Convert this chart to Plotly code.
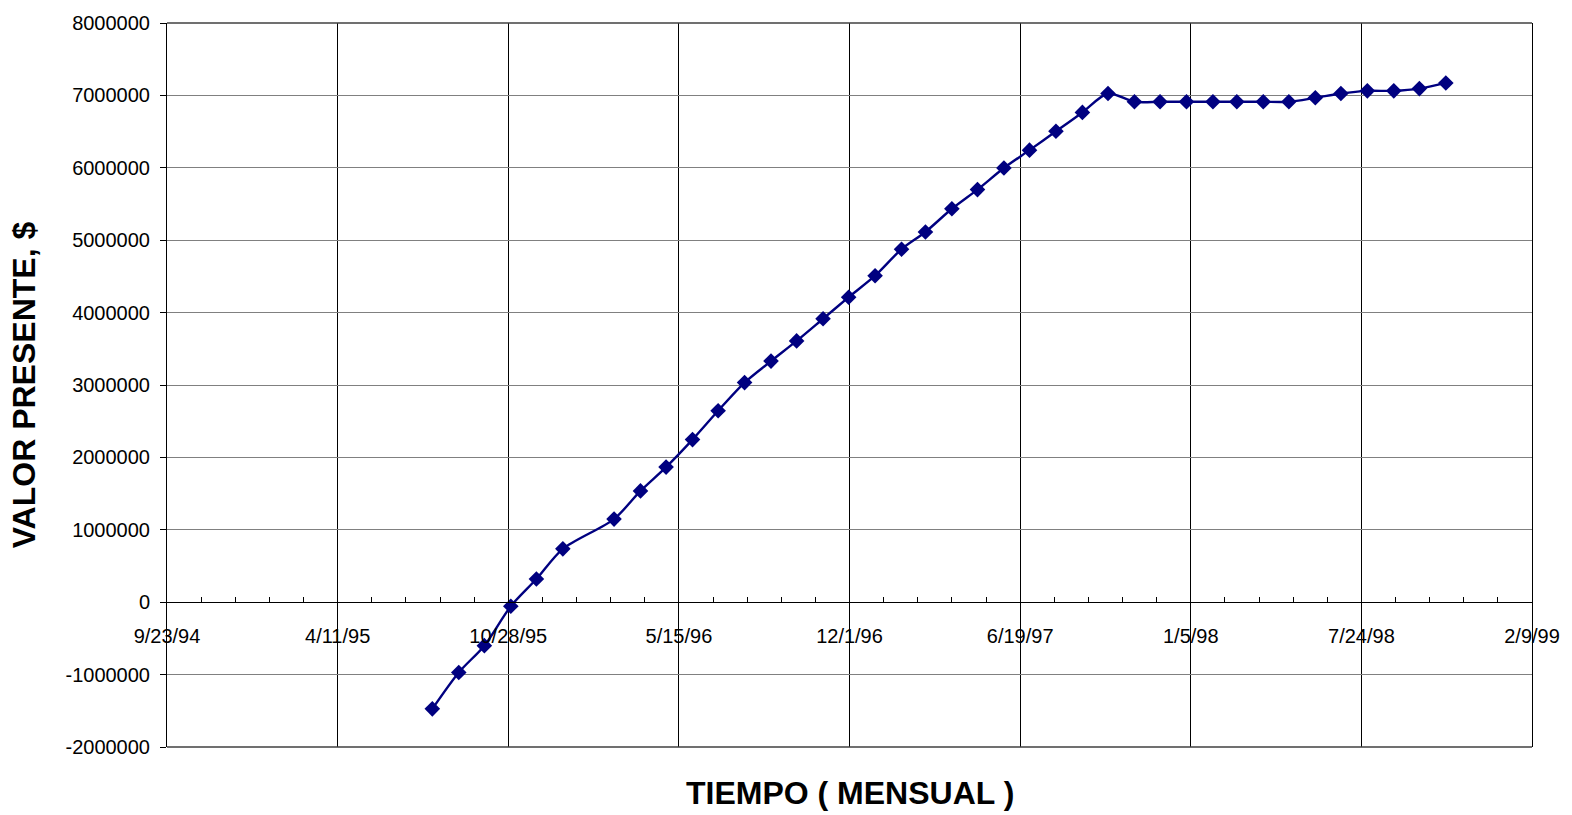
import plotly.graph_objects as go

# Monthly dates (end of month) and present value ($)
dates = [
    "1995-07-31", "1995-08-31", "1995-09-30", "1995-10-31", "1995-11-30", "1995-12-31",
    "1996-02-29", "1996-03-31", "1996-04-30", "1996-05-31", "1996-06-30", "1996-07-31",
    "1996-08-31", "1996-09-30", "1996-10-31", "1996-11-30", "1996-12-31",
    "1997-01-31", "1997-02-28", "1997-03-31", "1997-04-30", "1997-05-31", "1997-06-30",
    "1997-07-31", "1997-08-31", "1997-09-30", "1997-10-31", "1997-11-30", "1997-12-31",
    "1998-01-31", "1998-02-28", "1998-03-31", "1998-04-30", "1998-05-31", "1998-06-30",
    "1998-07-31", "1998-08-31", "1998-09-30", "1998-10-31",
]
valor_presente = [
    -1473000, -970000, -600000, -55000, 320000, 737000,
    1148000, 1537000, 1866000, 2246000, 2644000, 3033000,
    3330000, 3609000, 3915000, 4213000, 4510000,
    4876000, 5114000, 5434000, 5699000, 5997000, 6244000,
    6504000, 6765000, 7026000, 6912000, 6912000, 6912000,
    6912000, 6912000, 6912000, 6912000, 6967000, 7026000,
    7063000, 7063000, 7094000, 7172000,
]

x_tick_vals = ["1994-09-23", "1995-04-11", "1995-10-28", "1996-05-15", "1996-12-01",
               "1997-06-19", "1998-01-05", "1998-07-24", "1999-02-09"]
x_tick_text = ["9/23/94", "4/11/95", "10/28/95", "5/15/96", "12/1/96",
               "6/19/97", "1/5/98", "7/24/98", "2/9/99"]
y_tick_vals = [-2000000, -1000000, 0, 1000000, 2000000, 3000000, 4000000,
               5000000, 6000000, 7000000, 8000000]
y_tick_text = ["-2000000", "-1000000", "0", "1000000", "2000000", "3000000", "4000000",
               "5000000", "6000000", "7000000", "8000000"]

FONT = "Liberation Sans, Arial, sans-serif"
NAVY = "#000080"

fig = go.Figure()
fig.add_trace(go.Scatter(
    x=dates, y=valor_presente, mode="lines+markers",
    line=dict(color=NAVY, width=2.4, shape="spline", smoothing=0.8),
    marker=dict(symbol="diamond", size=12, color=NAVY),
    showlegend=False,
))

fig.update_layout(
    width=1572, height=815,
    margin=dict(l=167, r=36, t=19, b=68),
    paper_bgcolor="white", plot_bgcolor="white",
    font=dict(family=FONT, size=20, color="black"),
    xaxis=dict(
        type="date",
        range=["1994-09-23", "1999-02-09"],
        tickmode="array", tickvals=x_tick_vals, ticktext=x_tick_text,
        ticks="inside", ticklen=5, tickcolor="black",
        showgrid=True, gridcolor="black", gridwidth=1,
        showline=True, linecolor="black", linewidth=1,
        anchor="free", position=0.2,
        ticklabelstandoff=16,
        tickfont=dict(family=FONT, size=20, color="black"),
        minor=dict(ticks="inside", ticklen=5, tickcolor="black",
                   tickmode="linear", tick0="1994-09-23", dtick=40 * 86400000,
                   showgrid=False),
        zeroline=False,
    ),
    yaxis=dict(
        range=[-2000000, 8000000],
        tickmode="array", tickvals=y_tick_vals, ticktext=y_tick_text,
        ticks="outside", ticklen=6, tickcolor="black",
        showgrid=True, gridcolor="#808080", gridwidth=1,
        showline=True, linecolor="black", linewidth=1, mirror=True,
        zeroline=False,
        ticklabelstandoff=6,
        tickfont=dict(family=FONT, size=20, color="black"),
    ),
    shapes=[
        dict(type="line", xref="paper", yref="paper", x0=0, x1=1, y0=1, y1=1,
             line=dict(color="#404040", width=1.5)),
        dict(type="line", xref="paper", yref="paper", x0=0, x1=1, y0=0, y1=0,
             line=dict(color="#404040", width=1.5)),
    ],
    annotations=[
        dict(text="<b>TIEMPO ( MENSUAL )</b>", xref="paper", yref="paper",
             x=0.5, y=-0.063, xanchor="center", yanchor="middle", showarrow=False,
             font=dict(family=FONT, size=32, color="black")),
        dict(text="<b>VALOR PRESENTE, $</b>", xref="paper", yref="paper",
             x=-0.1045, y=0.50, xanchor="center", yanchor="middle", showarrow=False,
             textangle=-90, font=dict(family=FONT, size=32, color="black")),
    ],
)

fig.write_html(
    "out.html",
    config={"displayModeBar": False},
    post_script="document.body.style.margin='0';document.body.style.padding='0';",
)
